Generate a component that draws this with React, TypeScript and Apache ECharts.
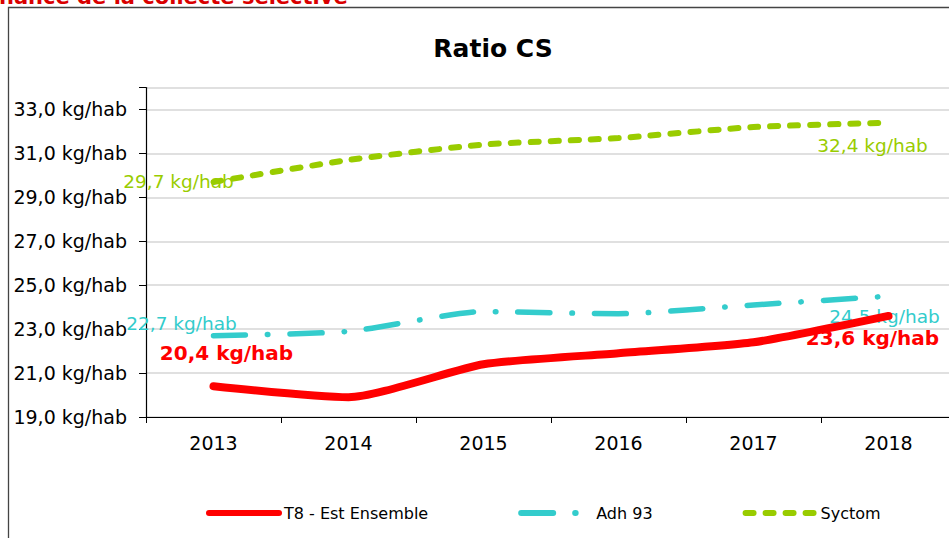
import React, { useEffect, useRef } from "react";
import * as echarts from "echarts";

const years = ["2013", "2014", "2015", "2016", "2017", "2018"];
const t8Values = [20.4, 19.9, 21.4, 21.9, 22.4, 23.6];
const adhValues = [22.7, 22.9, 23.8, 23.7, 24.1, 24.5];
const syctomValues = [29.7, 30.7, 31.4, 31.7, 32.2, 32.4];
const seriesNames = ["T8 - Est Ensemble", "Adh 93", "Syctom"];
const yMin = 19;
const yMax = 34;
const yStep = 2;
const chartTitle = "Ratio CS";
const headerText = "nance de la collecte sélective";
const unit = "kg/hab";

const FONT = "DejaVu Sans";
const RED = "#FF0000";
const CYAN = "#33CCCC";
const GREEN = "#99CC00";

const fmt = (v: number) => v.toFixed(1).replace(".", ",") + " " + unit;

function withEndLabels(values: number[], first: any, last: any) {
  return values.map((v, i) => {
    if (i === 0) return { value: v, label: { show: true, ...first } };
    if (i === values.length - 1) return { value: v, label: { show: true, ...last } };
    return v;
  });
}

export default function App() {
  const ref = useRef<HTMLDivElement>(null);

  useEffect(() => {
    if (!ref.current) return;
    const chart = echarts.init(ref.current, undefined, { renderer: "svg" });

    const labelBase = (color: string, bold: boolean, size: number) => ({
      position: "inside",
      align: "center",
      verticalAlign: "middle",
      color,
      fontFamily: FONT,
      fontWeight: bold ? "bold" : "normal",
      fontSize: size,
      formatter: (p: any) => fmt(p.value),
    });

    const option: any = {
      animation: false,
      backgroundColor: "#ffffff",
      graphic: [
        {
          type: "rect",
          shape: { x: 8.5, y: 7.5, width: 1000, height: 1000 },
          style: { fill: "none", stroke: "#444", lineWidth: 1.3 },
          silent: true,
          z: -1,
        },
        {
          type: "text",
          x: -1,
          y: -3,
          style: {
            text: headerText,
            fill: "#D90000",
            font: `bold 21px "${FONT}"`,
            align: "left",
            verticalAlign: "middle",
          },
          silent: true,
        },
        {
          type: "text",
          x: 493,
          y: 48,
          style: {
            text: chartTitle,
            fill: "#000",
            font: `bold 25px "${FONT}"`,
            align: "center",
            verticalAlign: "middle",
          },
          silent: true,
        },
      ],
      grid: {
        left: 146,
        width: 810,
        top: 87.5,
        height: 329.5,
        containLabel: false,
        outerBoundsMode: "none",
      },
      legend: {
        left: 206,
        top: 505,
        padding: 0,
        itemWidth: 70,
        itemHeight: 12,
        itemGap: 90,
        data: seriesNames,
        textStyle: { fontFamily: FONT, fontSize: 16, color: "#000" },
        itemStyle: { color: "transparent", borderWidth: 0, opacity: 0 },
        lineStyle: { width: 6 },
      },
      xAxis: {
        type: "category",
        data: years,
        boundaryGap: true,
        axisLine: { lineStyle: { color: "#000", width: 1.2 } },
        axisTick: { show: true, length: 6, lineStyle: { color: "#000" } },
        axisLabel: { fontFamily: FONT, fontSize: 19, color: "#000", margin: 16 },
        splitLine: { show: false },
      },
      yAxis: {
        type: "value",
        min: yMin,
        max: yMax,
        interval: yStep,
        axisLine: { show: true, lineStyle: { color: "#000", width: 1.2 } },
        axisTick: { show: true, length: 7, lineStyle: { color: "#000" } },
        axisLabel: {
          fontFamily: FONT,
          fontSize: 19,
          color: "#000",
          margin: 19,
          formatter: (v: number) => ((v - yMin) % yStep === 0 ? fmt(v) : ""),
        },
        splitLine: { show: true, lineStyle: { color: "#D6D6D6", width: 1.5 } },
      },
      series: [
        {
          name: seriesNames[0],
          type: "line",
          smooth: 0.2,
          symbol: "circle",
          symbolSize: 0,
          itemStyle: { color: RED },
          lineStyle: { color: RED, width: 8, cap: "round", join: "round" },
          label: { show: false },
          data: withEndLabels(
            t8Values,
            { ...labelBase(RED, true, 20), offset: [13, -33] },
            { ...labelBase(RED, true, 20), offset: [-16, 22] }
          ),
          z: 3,
        },
        {
          name: seriesNames[1],
          type: "line",
          smooth: 0.2,
          symbol: "circle",
          symbolSize: 0,
          itemStyle: { color: CYAN },
          lineStyle: { color: CYAN, width: 5.5, type: [32, 22, 0.5, 22], cap: "round" },
          label: { show: false },
          data: withEndLabels(
            adhValues,
            { ...labelBase(CYAN, false, 18.5), offset: [-32, -12] },
            { ...labelBase(CYAN, false, 18.5), offset: [-4, 20] }
          ),
          z: 2,
        },
        {
          name: seriesNames[2],
          type: "line",
          smooth: 0.2,
          symbol: "circle",
          symbolSize: 0,
          itemStyle: { color: GREEN },
          lineStyle: { color: GREEN, width: 6, type: [8, 12], cap: "round" },
          label: { show: false },
          data: withEndLabels(
            syctomValues,
            { ...labelBase(GREEN, false, 18.5), offset: [-35, 0] },
            { ...labelBase(GREEN, false, 18.5), offset: [-16, 22.5] }
          ),
          z: 2,
        },
      ],
    };

    chart.setOption(option);
    return () => {
      chart.dispose();
    };
  }, []);

  return (
    <div
      ref={ref}
      style={{ position: "fixed", left: 0, top: 0, width: 960, height: 538, background: "#fff" }}
    />
  );
}
